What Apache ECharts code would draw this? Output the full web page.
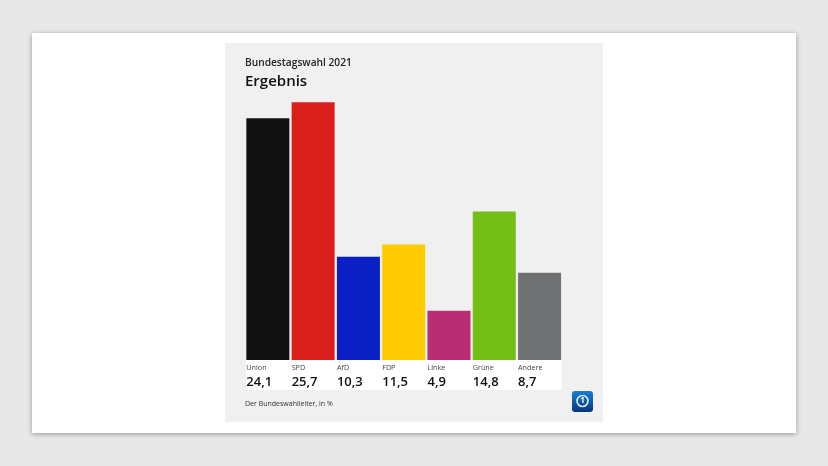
<!DOCTYPE html>
<html style="height: 100%" lang="de">
<head>
    <meta charset="utf-8">
    <script type="text/javascript" src="https://cdn.jsdelivr.net/npm/echarts@6/dist/echarts.min.js"></script>
    <title>Bundestagswahl 2021</title>
</head>
<body style="height: 100%; margin: 0; background: #e8e8e8">
<div id="container" style="width: 828px; height: 466px"></div>
</body>
<script type="text/javascript">
    const parties = ['Union', 'SPD', 'AfD', 'FDP', 'Linke', 'Grüne', 'Andere'];
    const results = [24.1, 25.7, 10.3, 11.5, 4.9, 14.8, 8.7];
    const partyColors = ['#111111', '#d81f1b', '#0a1fc4', '#ffcb00', '#b92d75', '#75bd17', '#707173'];

    const fontName = '"Open Sans", "Noto Sans", sans-serif';
    let dom = document.getElementById('container');
    let myChart = echarts.init(dom, null, {renderer: 'canvas'});

    function comma(v) {
        return v.toFixed(1).replace('.', ',');
    }

    let option = {
        backgroundColor: '#e8e8e8',
        animation: false,
        textStyle: {fontFamily: fontName},
        graphic: [
            // card + panel + label strip
            {type: 'rect', z: -10, shape: {x: 32, y: 33, width: 764, height: 400},
                style: {fill: '#fff', shadowBlur: 5, shadowColor: 'rgba(0,0,0,0.35)', shadowOffsetY: 1}},
            {type: 'rect', z: -9, shape: {x: 225, y: 43, width: 378, height: 379}, style: {fill: '#f0f0f0'}},
            {type: 'rect', z: -8, shape: {x: 246, y: 360, width: 315.5, height: 30}, style: {fill: '#fff'}},
            {type: 'text', x: 245, y: 58.5, style: {text: 'Bundestagswahl 2021', fill: '#222', font: '600 10.2px ' + fontName}},
            {type: 'text', x: 245, y: 74, style: {text: 'Ergebnis', fill: '#111', font: '600 15px ' + fontName}},
            {type: 'text', x: 245, y: 400.5, style: {text: 'Der Bundeswahlleiter, in %', fill: '#333', font: '7px ' + fontName}},
            // tagesschau logo
            {type: 'rect', z: 5, shape: {x: 572, y: 391, width: 21, height: 21, r: 3},
                style: {fill: new echarts.graphic.LinearGradient(0, 0, 0, 1, [
                    {offset: 0, color: '#1a7fd0'}, {offset: 1, color: '#06367f'}
                ])}},
            {type: 'circle', z: 6, shape: {cx: 582.5, cy: 401, r: 5.5}, style: {fill: 'none', stroke: '#dcebf7', lineWidth: 1.6}},
            {type: 'text', z: 6, x: 582.5, y: 401, style: {text: '1', fill: '#fff', font: 'bold 8px ' + fontName, align: 'center', verticalAlign: 'middle'}}
        ],
        grid: {left: 245.2, width: 317, top: 59, height: 301},
        xAxis: {
            type: 'category',
            data: parties,
            axisLine: {show: false},
            axisTick: {show: false},
            axisLabel: {
                interval: 0,
                margin: 1,
                formatter: function (name, i) {
                    return '{n|' + name + '}\n{v|' + comma(results[i]) + '}';
                },
                rich: {
                    n: {width: 43, align: 'left', fontSize: 7.2, lineHeight: 13, color: '#444', fontFamily: fontName},
                    v: {width: 43, align: 'left', fontSize: 13, lineHeight: 17, fontWeight: 600, color: '#111', fontFamily: fontName}
                }
            }
        },
        yAxis: {
            type: 'value',
            min: 0,
            max: 30,
            show: false
        },
        series: [{
            type: 'bar',
            barWidth: 43,
            data: results.map(function (v, i) {
                return {value: v, itemStyle: {color: partyColors[i]}};
            })
        }]
    };
    myChart.setOption(option);
</script>
</html>
